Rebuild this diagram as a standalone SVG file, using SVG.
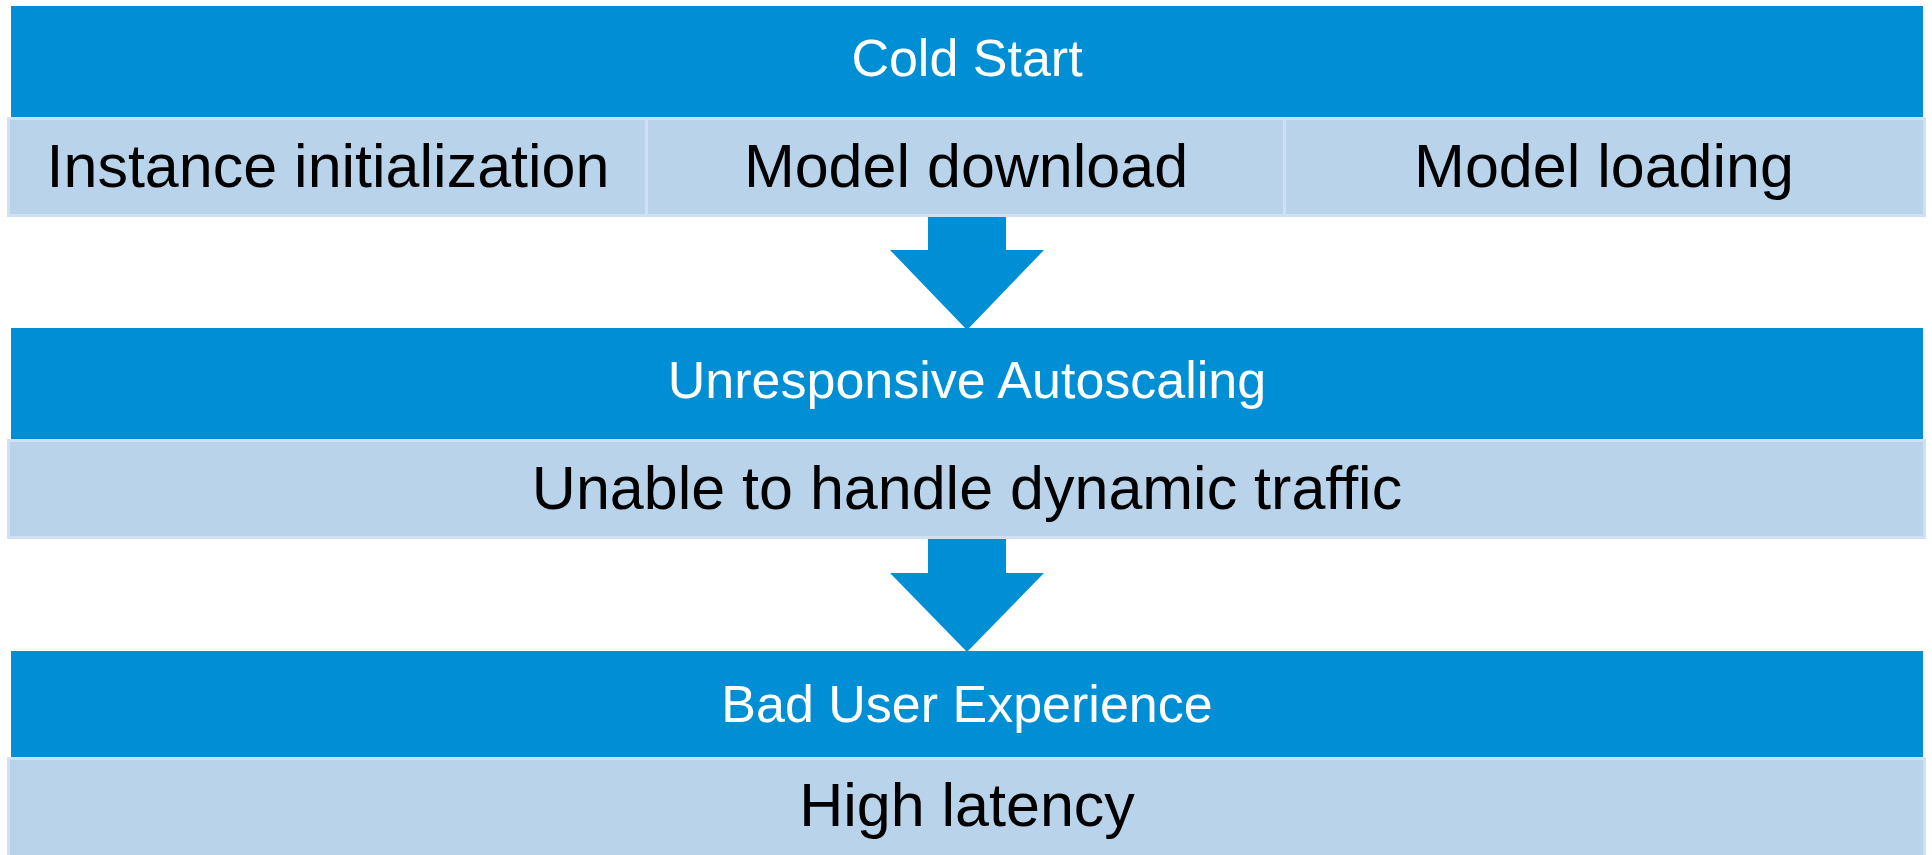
<svg xmlns="http://www.w3.org/2000/svg" width="1932" height="855" viewBox="0 0 1932 855">
<style>
.bar{fill:#008fd5}
.row{fill:#b8d3ea;stroke:#cfe0f2;stroke-width:3}
.title{font-family:"Liberation Sans",Arial,sans-serif;font-size:52px;fill:#ffffff;text-anchor:middle}
.item{font-family:"Liberation Sans",Arial,sans-serif;font-size:61px;fill:#000000;text-anchor:middle}
.arrow{fill:#008fd5}
</style>
<rect width="1932" height="855" fill="#ffffff"/>
<g id="cold-start">
<rect class="bar" x="11" y="6" width="1912" height="111"/>
<text class="title" x="967" y="76">Cold Start</text>
</g>
<g id="instance-init">
<rect class="row" x="8.5" y="118.5" width="638" height="97"/>
<text class="item" x="328" y="187">Instance initialization</text>
</g>
<g id="model-download">
<rect class="row" x="646.5" y="118.5" width="638" height="97"/>
<text class="item" x="966" y="187">Model download</text>
</g>
<g id="model-loading">
<rect class="row" x="1284.5" y="118.5" width="640" height="97"/>
<text class="item" x="1604" y="187">Model loading</text>
</g>
<g id="unresponsive">
<rect class="bar" x="11" y="328" width="1912" height="111"/>
<text class="title" x="967" y="398">Unresponsive Autoscaling</text>
</g>
<g id="unable">
<rect class="row" x="8.5" y="440.5" width="1916" height="97"/>
<text class="item" x="967" y="509">Unable to handle dynamic traffic</text>
</g>
<g id="bad-ux">
<rect class="bar" x="11" y="651" width="1912" height="106"/>
<text class="title" x="967" y="722">Bad User Experience</text>
</g>
<g id="high-latency">
<rect class="row" x="8.5" y="758.5" width="1916" height="100"/>
<text class="item" x="967" y="826">High latency</text>
</g>
<g id="connectors">
<polygon class="arrow" points="928,217 1006,217 1006,250 1044,250 967,330 890,250 928,250"/>
<polygon class="arrow" points="928,539 1006,539 1006,573 1044,573 967,652 890,573 928,573"/>
</g>
</svg>
